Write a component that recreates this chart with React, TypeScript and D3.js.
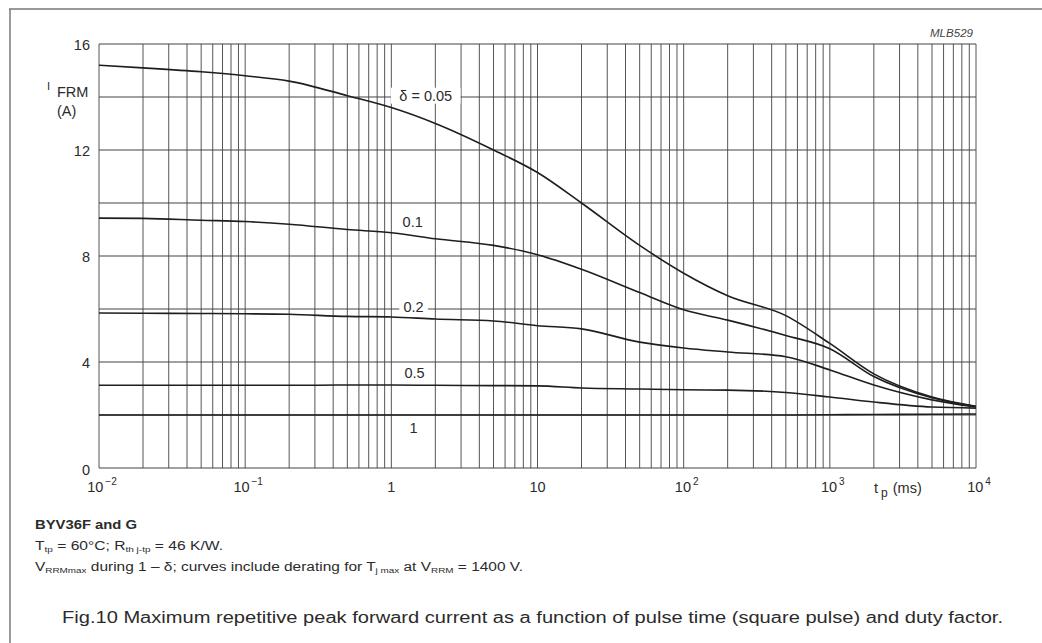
import * as d3 from 'd3';
import React from 'react';

// pulse time t_p (ms) sample points
const pulseTimes = [0.01, 0.02, 0.05, 0.1, 0.2, 0.5, 1, 2, 5, 10, 20, 50, 100, 200, 500, 1000, 2000, 5000, 10000];

// I_FRM (A) for each duty factor
const current005 = [15.2, 15.1, 14.95, 14.8, 14.6, 14.05, 13.6, 13.0, 12.0, 11.15, 10.0, 8.4, 7.35, 6.5, 5.75, 4.7, 3.55, 2.68, 2.33];
const current01 = [9.43, 9.42, 9.35, 9.3, 9.2, 9.0, 8.88, 8.65, 8.4, 8.05, 7.5, 6.62, 5.97, 5.58, 5.0, 4.5, 3.45, 2.65, 2.32];
const current02 = [5.85, 5.84, 5.83, 5.82, 5.8, 5.72, 5.7, 5.62, 5.55, 5.37, 5.25, 4.75, 4.53, 4.38, 4.2, 3.7, 3.13, 2.57, 2.3];
const current05 = [3.12, 3.12, 3.12, 3.12, 3.12, 3.13, 3.13, 3.12, 3.11, 3.1, 3.02, 2.98, 2.95, 2.94, 2.85, 2.68, 2.49, 2.3, 2.26];
const current1 = [2.0, 2.0, 2.0, 2.0, 2.0, 2.0, 2.0, 2.0, 2.0, 2.0, 2.0, 2.0, 2.0, 2.0, 2.0, 2.01, 2.02, 2.03, 2.04];

const seriesValues = [current005, current01, current02, current05, current1];
const curveLabels = ['δ = 0.05', '0.1', '0.2', '0.5', '1'];
const labelTimes = [1.72, 1.4, 1.42, 1.44, 1.42];
const labelCurrents = [14.05, 9.3, 6.08, 3.58, 1.5];

const yTicks = [0, 4, 8, 12, 16];
const xTickValues = [0.01, 0.1, 1, 10, 100, 1000, 10000];
const xTickBase = ['10', '10', '1', '10', '10', '10', '10'];
const xTickExp = ['−2', '−1', '', '', '2', '3', '4'];

const W = 1042;
const H = 643;
const plot = { left: 99, right: 976, top: 44, bottom: 468 };
const font = '"Liberation Sans", Arial, Helvetica, sans-serif';
const ink = '#2b2b2b';

export default function App() {
  const x = d3.scaleLog().domain([0.01, 10000]).range([plot.left, plot.right]);
  const y = d3.scaleLinear().domain([0, 16]).range([plot.bottom, plot.top]);

  // log grid: 1..9 x 10^k
  const vGrid: number[] = [];
  for (let k = -2; k < 4; k++) {
    for (let m = 1; m < 10; m++) vGrid.push(m * Math.pow(10, k));
  }
  vGrid.push(10000);
  const hGrid = d3.range(0, 17, 2);

  const line = d3
    .line<[number, number]>()
    .x((d) => x(d[0]))
    .y((d) => y(d[1]))
    .curve(d3.curveMonotoneX);

  return (
    <svg
      width={W}
      height={H}
      style={{ position: 'absolute', left: 0, top: 0, background: '#fff', fontFamily: font }}
    >
      {/* scan frame */}
      <line x1={9} y1={9} x2={W} y2={9} stroke="#777" strokeWidth={1.5} />
      <line x1={10} y1={9} x2={10} y2={H} stroke="#777" strokeWidth={1.5} />

      <text x={930} y={37} fontSize={10} fontStyle="italic" fill="#444" textLength={43} lengthAdjust="spacingAndGlyphs">
        MLB529
      </text>

      {/* grid */}
      {vGrid.map((v, i) => (
        <line key={'v' + i} x1={x(v)} x2={x(v)} y1={plot.top} y2={plot.bottom} stroke="#555" strokeWidth={1} />
      ))}
      {hGrid.map((v) => (
        <line key={'h' + v} x1={plot.left} x2={plot.right} y1={y(v)} y2={y(v)} stroke="#444" strokeWidth={1.2} />
      ))}

      {/* curves */}
      {seriesValues.map((vals, i) => (
        <path
          key={'c' + i}
          d={line(pulseTimes.map((t, j) => [t, vals[j]] as [number, number])) || ''}
          fill="none"
          stroke="#1e1e1e"
          strokeWidth={1.6}
        />
      ))}

      {/* curve labels */}
      {curveLabels.map((lab, i) => {
        const cx = x(labelTimes[i]);
        const cy = y(labelCurrents[i]);
        const w = lab.length * 8.2 + 4;
        return (
          <g key={'l' + i}>
            <rect x={cx - w / 2} y={cy - 8} width={w} height={16} fill="#fff" />
            <text x={cx} y={cy + 5} fontSize={14.5} fill={ink} textAnchor="middle">
              {lab}
            </text>
          </g>
        );
      })}

      {/* y axis labels */}
      {yTicks.map((v) => (
        <text key={'y' + v} x={90} y={v === 0 ? y(v) + 7 : y(v) + 6} fontSize={14.5} fill={ink} textAnchor="end">
          {v}
        </text>
      ))}
      <text x={47} y={90} fontSize={11} fill={ink}>
        I
      </text>
      <text x={57} y={97} fontSize={14.5} fill={ink}>
        FRM
      </text>
      <text x={57} y={116} fontSize={14.5} fill={ink}>
        (A)
      </text>

      {/* x axis labels */}
      {xTickValues.map((v, i) => (
        <text key={'x' + i} x={x(v) + (xTickExp[i] ? 3 : 0)} y={492} fontSize={14.5} fill={ink} textAnchor="middle">
          {xTickBase[i]}
          {xTickExp[i] && (
            <tspan dy={-7} fontSize={10} dx={2}>
              {xTickExp[i]}
            </tspan>
          )}
        </text>
      ))}
      <text x={874} y={493} fontSize={14.5} fill={ink}>
        t
        <tspan dy={4} fontSize={12} dx={3}>
          p
        </tspan>
        <tspan dy={-4} dx={5}>
          (ms)
        </tspan>
      </text>

      {/* notes */}
      <text x={35} y={529} fontSize={12.5} fontWeight="bold" fill={ink} textLength={102} lengthAdjust="spacingAndGlyphs">
        BYV36F and G
      </text>
      <text x={35} y={550} fontSize={12.5} fill={ink} textLength={188} lengthAdjust="spacingAndGlyphs">
        T
        <tspan fontSize={8} dy={2}>
          tp
        </tspan>
        <tspan dy={-2}> = 60°C; R</tspan>
        <tspan fontSize={8} dy={2}>
          th j-tp
        </tspan>
        <tspan dy={-2}> = 46 K/W.</tspan>
      </text>
      <text x={35} y={571} fontSize={12.5} fill={ink} textLength={488} lengthAdjust="spacingAndGlyphs">
        V
        <tspan fontSize={8} dy={2}>
          RRMmax
        </tspan>
        <tspan dy={-2}> during 1 – δ; curves include derating for T</tspan>
        <tspan fontSize={8} dy={2}>
          j max
        </tspan>
        <tspan dy={-2}> at V</tspan>
        <tspan fontSize={8} dy={2}>
          RRM
        </tspan>
        <tspan dy={-2}> = 1400 V.</tspan>
      </text>

      <text x={62} y={623} fontSize={16} fill={ink} textLength={941} lengthAdjust="spacingAndGlyphs">
        Fig.10  Maximum repetitive peak forward current as a function of pulse time (square pulse) and duty factor.
      </text>
    </svg>
  );
}
